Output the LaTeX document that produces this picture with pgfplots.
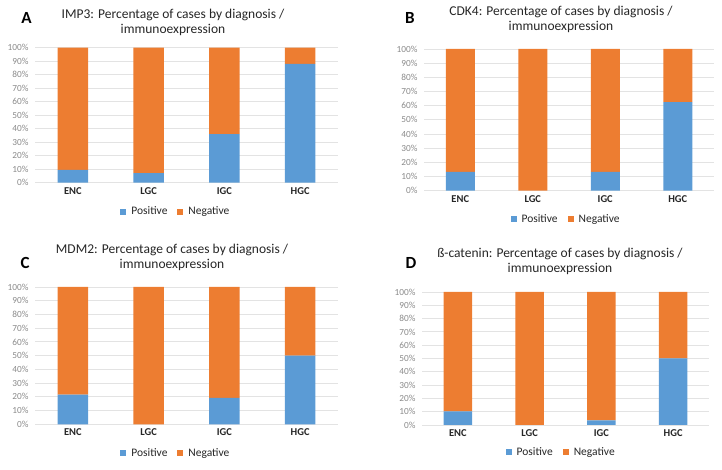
\documentclass[border=0pt]{standalone}
\usepackage{fontspec}
\setmainfont{Carlito}
\usepackage{pgfplots}
\pgfplotsset{compat=1.18}
\definecolor{xblue}{HTML}{5B9BD5}
\definecolor{xorange}{HTML}{ED7D31}
\definecolor{gridgray}{HTML}{E3E3E3}
\definecolor{ticktxt}{HTML}{8A8A8A}
\definecolor{cattxt}{HTML}{262626}
\pgfplotsset{
  panel/.style={
    scale only axis,
    ybar stacked,
    bar width=0.4,
    xmin=-0.5, xmax=3.5,
    ymin=0, ymax=100,
    xtick={0,1,2,3},
    xticklabels={ENC,LGC,IGC,HGC},
    ytick={0,10,...,100},
    yticklabel={\pgfmathprintnumber[assume math mode=true]{\tick}\%},
    axis line style={draw=none},
    ymajorgrids,
    grid style={gridgray, line width=0.9pt},
    major tick length=0pt,
    yticklabel style={font=\fontsize{9.3}{11}\selectfont, text=ticktxt, xshift=-3pt},
    xticklabel style={font=\fontsize{10.5}{12}\bfseries\selectfont, text=cattxt, yshift=-1pt},
    legend style={draw=none, fill=none, legend columns=2, anchor=center,
      font=\fontsize{11.5}{13}\selectfont, text=cattxt,
      /tikz/every even column/.append style={column sep=8pt}},
    legend image code/.code={\fill[##1] (0pt,-3pt) rectangle (6pt,3pt); \path (9pt,0pt);},
  },
  pos/.style={fill=xblue, draw=none},
  neg/.style={fill=xorange, draw=none},
}
\begin{document}
\begin{tikzpicture}[x=1pt,y=1pt]
\useasboundingbox (0,0) rectangle (722,470);
% Panel A
\begin{axis}[panel, at={(35pt,287.3pt)}, anchor=south west, width=303pt, height=135pt,
  legend style={at={(0.465,-0.215)}}]
\addplot[pos] coordinates {(0,9.5) (1,7) (2,36) (3,88)};
\addplot[neg] coordinates {(0,90.5) (1,93) (2,64) (3,12)};
\legend{Positive,Negative}
\end{axis}
% Panel B
\begin{axis}[panel, at={(424pt,279.3pt)}, anchor=south west, width=290pt, height=141.7pt,
  legend style={at={(0.49,-0.2)}}]
\addplot[pos] coordinates {(0,13.3) (1,0) (2,13.3) (3,62.5)};
\addplot[neg] coordinates {(0,86.7) (1,100) (2,86.7) (3,37.5)};
\legend{Positive,Negative}
\end{axis}
% Panel C
\begin{axis}[panel, at={(35pt,45.7pt)}, anchor=south west, width=303pt, height=137.3pt,
  legend style={at={(0.465,-0.21)}}]
\addplot[pos] coordinates {(0,21.6) (1,0) (2,19.2) (3,50)};
\addplot[neg] coordinates {(0,78.4) (1,100) (2,80.8) (3,50)};
\legend{Positive,Negative}
\end{axis}
% Panel D
\begin{axis}[panel, at={(422pt,45pt)}, anchor=south west, width=287pt, height=133pt,
  legend style={at={(0.485,-0.205)}}]
\addplot[pos] coordinates {(0,10.3) (1,0) (2,3.5) (3,50)};
\addplot[neg] coordinates {(0,89.7) (1,100) (2,96.5) (3,50)};
\legend{Positive,Negative}
\end{axis}
% Titles
\begin{scope}[every node/.style={font=\fontsize{13.5}{15}\selectfont, text=cattxt, align=center, anchor=center}]
\node at (173,447.5) {IMP3: Percentage of cases by diagnosis /\\immunoexpression};
\node at (561,450.5) {CDK4: Percentage of cases by diagnosis /\\immunoexpression};
\node at (172,213) {MDM2: Percentage of cases by diagnosis /\\immunoexpression};
\node at (560,209) {ß-catenin: Percentage of cases by diagnosis /\\immunoexpression};
\end{scope}
% Panel letters
\begin{scope}[every node/.style={font=\fontsize{17}{20}\bfseries\selectfont, text=black, anchor=center}]
\node at (26.5,452) {A};
\node at (410,452) {B};
\node at (25,207) {C};
\node at (411,207) {D};
\end{scope}
\end{tikzpicture}
\end{document}
